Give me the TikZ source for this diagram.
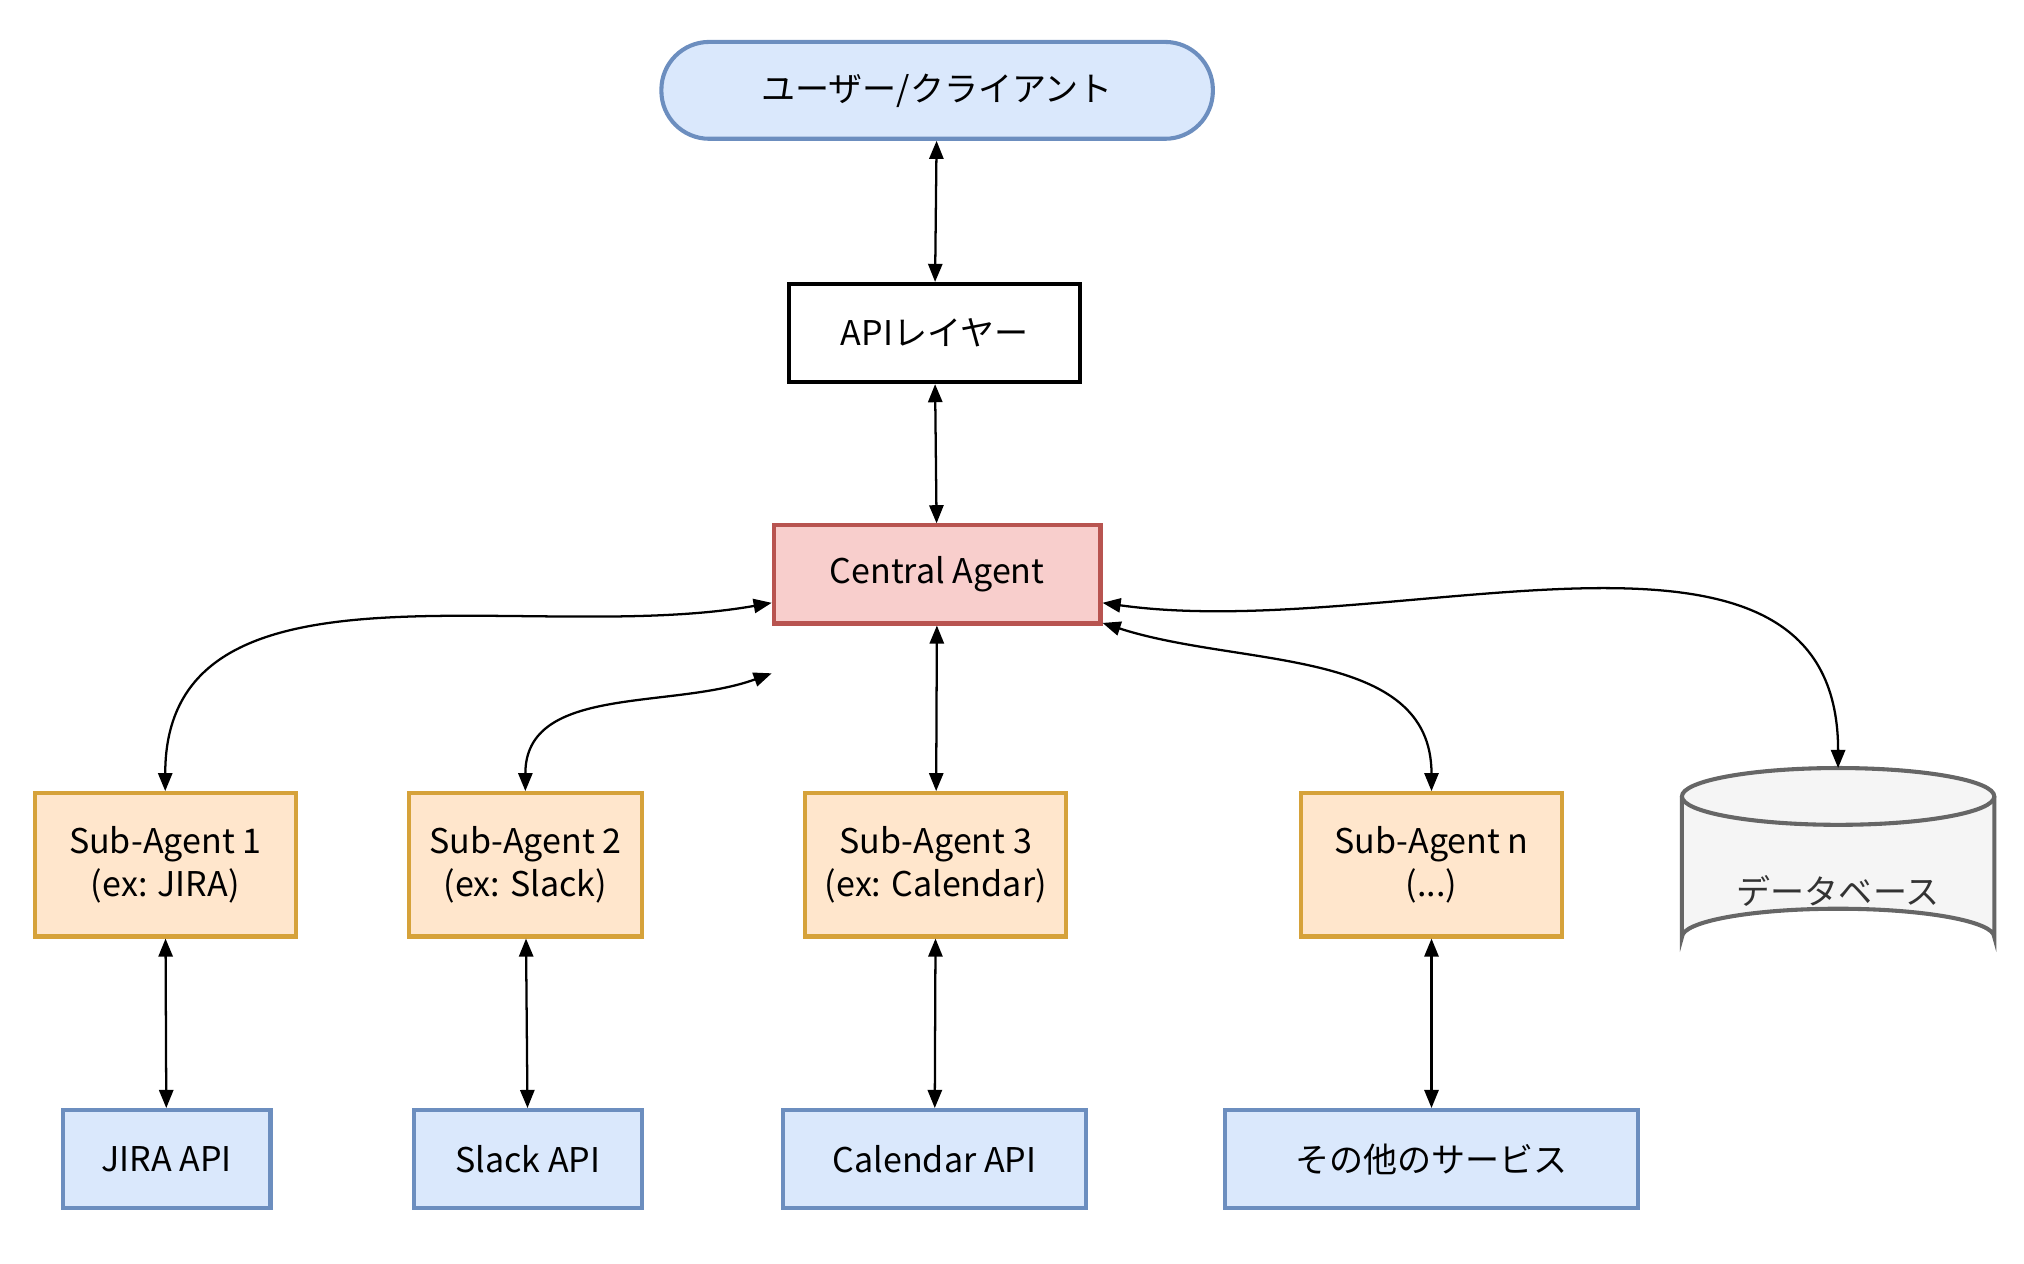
\documentclass[tikz,border=0pt]{standalone}
\usepackage{fontspec}
\setmainfont{Noto Sans CJK JP}
\usetikzlibrary{arrows.meta}
\definecolor{blueF}{HTML}{DAE8FC}
\definecolor{blueD}{HTML}{6C8EBF}
\definecolor{redF}{HTML}{F8CECC}
\definecolor{redD}{HTML}{B85450}
\definecolor{orF}{HTML}{FFE6CC}
\definecolor{orD}{HTML}{D6A23A}
\definecolor{grF}{HTML}{F5F5F5}
\definecolor{grD}{HTML}{666666}
\tikzset{
 box/.style={draw, line width=0.9pt, align=center, inner sep=0pt, font=\fontsize{7.5}{9.5}\selectfont},
 svc/.style={box, fill=blueF, draw=blueD, minimum height=0.76cm},
 sub/.style={box, fill=orF, draw=orD, minimum width=2.02cm, minimum height=1.11cm},
 link/.style={{Triangle[length=1.4mm,width=1.1mm]}-{Triangle[length=1.4mm,width=1.1mm]}, line width=0.5pt}
}
\begin{document}
\begin{tikzpicture}[x=0.01cm,y=-0.01cm]
 \useasboundingbox (0,0) rectangle (1568,979);

 %Top
 \node (user) [box, fill=blueF, draw=blueD, rounded corners=0.37cm, minimum width=4.27cm, minimum height=0.75cm] at (726,70) {ユーザー/クライアント};
 \node (api) [box, minimum width=2.25cm, minimum height=0.76cm] at (724,258) {APIレイヤー};
 \node (central) [box, fill=redF, draw=redD, minimum width=2.53cm, minimum height=0.76cm] at (726,445) {Central Agent};

 %Sub agents
 \node (sub1) [sub] at (128,670) {Sub-Agent 1\\(ex: JIRA)};
 \node (sub2) [sub, minimum width=1.8cm] at (407,670) {Sub-Agent 2\\(ex: Slack)};
 \node (sub3) [sub] at (725,670) {Sub-Agent 3\\(ex: Calendar)};
 \node (subn) [sub] at (1109,670) {Sub-Agent n\\(...)};

 %Database
 \draw[fill=grF, draw=grD, line width=0.9pt] (1303,617) -- (1303,726) arc[start angle=180, end angle=360, x radius=121, y radius=22] -- (1545,617);
 \draw[fill=grF, draw=grD, line width=0.9pt] (1424,617) ellipse[x radius=121, y radius=22];
 \node (db) [font=\fontsize{7.5}{9.5}\selectfont, text=black!80] at (1424,690) {データベース};
 \coordinate (dbtop) at (1424,595);

 %Services
 \node (jira) [svc, minimum width=1.61cm] at (129,898) {JIRA API};
 \node (slack) [svc, minimum width=1.77cm] at (409,898) {Slack API};
 \node (cal) [svc, minimum width=2.35cm] at (724,898) {Calendar API};
 \node (other) [svc, minimum width=3.2cm] at (1109,898) {その他のサービス};

 %Links
 \draw[link] (user) -- (api);
 \draw[link] (api) -- (central);
 \draw[link] (central) -- (sub3);
 \draw[link] (sub1.north) to[out=90, in=190] ([yshift=-0.22cm]central.west);
 \draw[link] (sub2.north) to[out=90, in=200] ([yshift=-0.37cm]central.south west);
 \draw[link] (subn.north) to[out=90, in=-18] ([yshift=0.02cm]central.south east);
 \draw[link] (dbtop) to[out=90, in=-8] ([yshift=-0.22cm]central.east);
 \draw[link] (sub1) -- (jira);
 \draw[link] (sub2) -- (slack);
 \draw[link] (sub3) -- (cal);
 \draw[link] (subn) -- (other);
\end{tikzpicture}
\end{document}
